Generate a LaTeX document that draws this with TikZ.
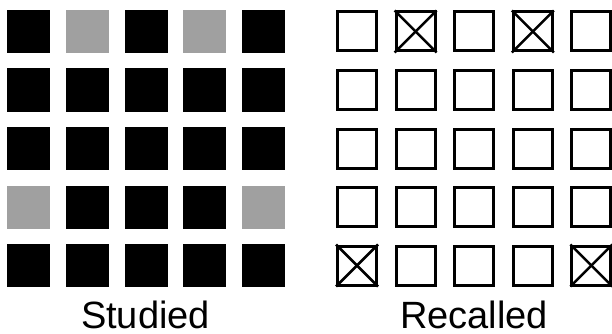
\documentclass[tikz,border=0pt]{standalone}
\usepackage{fontspec}
\setmainfont{Liberation Sans}
\usepackage{tikz}
\usetikzlibrary{positioning}
\definecolor{studgray}{RGB}{160, 160, 160}

\begin{document}
\begin{tikzpicture}[x=1pt, y=-1pt,
                cell/.style={minimum size=43pt, inner sep=0pt, fill=black},
                miss/.style={cell, fill=studgray},
                slot/.style={draw, line width=3pt, minimum size=39pt, inner sep=0pt},
                caption/.style={font=\fontsize{38}{40}\selectfont, anchor=base,
                                inner sep=0pt, text depth=0pt}]
                \useasboundingbox (0,0) rectangle (612,334);

                % studied grid
                \foreach \r in {0,...,4}
                  \foreach \c in {0,...,4}
                    \node[cell] (s-\r-\c) at (28.8+58.6*\c, 31.5+58.5*\r) {};
                \foreach \r/\c in {0/1, 0/3, 3/0, 3/4}
                  \node[miss] at (s-\r-\c) {};

                % recalled grid
                \foreach \r in {0,...,4}
                  \foreach \c in {0,...,4}
                    \node[slot] (m-\r-\c) at (357+58.6*\c, 31.5+58.5*\r) {};
                \foreach \r/\c in {0/1, 0/3, 4/0, 4/4} {
                  \draw[line width=2.5pt] (m-\r-\c.north west) -- (m-\r-\c.south east);
                  \draw[line width=2.5pt] (m-\r-\c.north east) -- (m-\r-\c.south west);
                }

                \node[caption] (studied) at (145.5, 328.7) {Studied};
                \node[caption] (recalled) at (474, 328.7) {Recalled};
            \end{tikzpicture}
\end{document}
